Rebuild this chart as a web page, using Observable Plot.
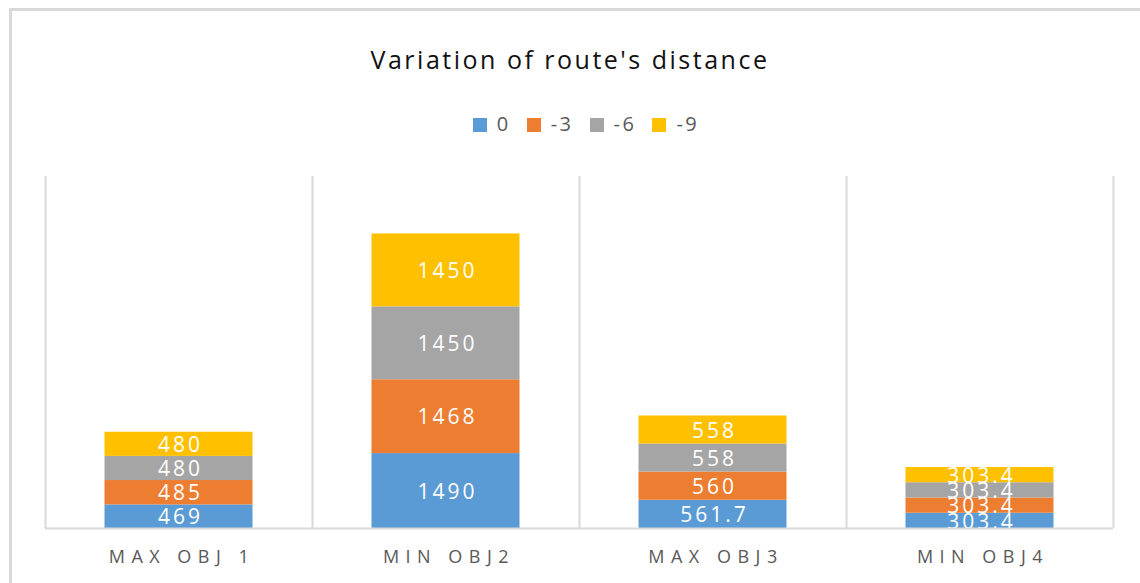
<!DOCTYPE html>
<html>
<head>
<meta charset="utf-8">
<script src="https://cdn.jsdelivr.net/npm/d3@7"></script>
<script src="https://cdn.jsdelivr.net/npm/@observablehq/plot@0.6"></script>
<style>
  html, body { margin: 0; padding: 0; background: #fff; }
  body { width: 1140px; height: 583px; position: relative; overflow: hidden; font-family: "Open Sans", sans-serif; }
  #frame { position: absolute; left: 9px; top: 8px; width: 1200px; height: 700px; border-left: 3px solid #d9d9d9; border-top: 3px solid #d9d9d9; }
  #title { position: absolute; left: 0; width: 1140px; top: 42px; text-align: center; font-size: 25px; letter-spacing: 2.5px; color: #111; }
  #legend { position: absolute; left: 16px; width: 1140px; top: 110px; text-align: center; font-size: 20px; letter-spacing: 2.5px; color: #595959; white-space: nowrap; }
  #legend span.item { display: inline-block; margin: 0 8px; }
  #legend span.sw { display: inline-block; width: 14px; height: 14px; margin-right: 10px; vertical-align: -1px; }
  #chart { position: absolute; left: 0; top: 160px; }
  #chart g[aria-label="text"] text { letter-spacing: 3px; }
  #chart g[aria-label="x-axis tick label"] text { letter-spacing: 6.5px; }
</style>
</head>
<body>
<div id="frame"></div>
<div id="title">Variation of route's distance</div>
<div id="legend"></div>
<div id="chart"></div>
<script>
const categories = ["MAX OBJ 1", "MIN OBJ2", "MAX OBJ3", "MIN OBJ4"];
const series = ["0", "-3", "-6", "-9"];
const colors = ["#5B9BD5", "#ED7D31", "#A5A5A5", "#FFC000"];
const values0 = [469, 1490, 561.7, 303.4];
const valuesM3 = [485, 1468, 560, 303.4];
const valuesM6 = [480, 1450, 558, 303.4];
const valuesM9 = [480, 1450, 558, 303.4];

const seriesValues = [values0, valuesM3, valuesM6, valuesM9];
const data = [];
series.forEach((s, si) => categories.forEach((c, ci) => data.push({category: c, series: s, value: seriesValues[si][ci]})));

// legend
const legend = document.getElementById("legend");
series.forEach((s, i) => {
  const item = document.createElement("span");
  item.className = "item";
  item.innerHTML = `<span class="sw" style="background:${colors[i]}"></span>${s}`;
  legend.appendChild(item);
});

const width = 1140, marginLeft = 45, marginRight = 27;
const step = (width - marginLeft - marginRight) / categories.length;

const stackOpts = {x: "category", y: "value", z: "series", order: series};

const plot = Plot.plot({
  width,
  height: 413,
  marginLeft,
  marginRight,
  marginTop: 16,
  marginBottom: 45,
  style: {fontFamily: "Open Sans, sans-serif", background: "transparent"},
  x: {domain: categories, padding: 0, axis: null},
  y: {domain: [0, 7000], axis: null},
  color: {domain: series, range: colors},
  marks: [
    Plot.ruleX(categories, {x: d => d, dx: -step / 2, stroke: "#d9d9d9", strokeWidth: 2}),
    Plot.ruleX(categories.slice(-1), {x: d => d, dx: step / 2, stroke: "#d9d9d9", strokeWidth: 2}),
    Plot.barY(data, Plot.stackY({...stackOpts, fill: "series", insetLeft: 59.5, insetRight: 59.5})),
    Plot.text(data, Plot.stackY({...stackOpts, y: "value", text: d => String(d.value), fill: "white", fontSize: 21, dx: 1.5, dy: 1})),
    Plot.ruleY([0], {stroke: "#d9d9d9", strokeWidth: 2}),
    Plot.axisX({domain: categories, tickSize: 0, tickPadding: 22, fontSize: 18, fill: "#595959", label: null,
      tickFormat: d => d, dx: 3})
  ]
});
document.getElementById("chart").appendChild(plot);
</script>
</body>
</html>
